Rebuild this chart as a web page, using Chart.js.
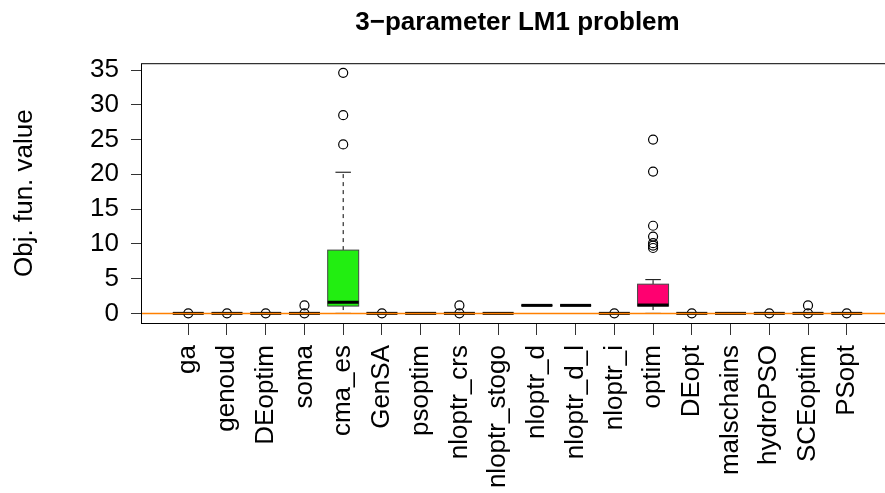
<!DOCTYPE html>
<html>
<head>
<meta charset="utf-8">
<script src="https://cdn.jsdelivr.net/npm/chart.js@4.4.1/dist/chart.umd.min.js"></script>
<style>
  html, body { margin: 0; padding: 0; background: #fff; }
  #wrap { width: 885px; height: 493px; overflow: hidden; }
</style>
</head>
<body>
<div id="wrap"><canvas id="boxChart" width="910" height="493"></canvas></div>
<script>
const solvers = ["ga", "genoud", "DEoptim", "soma", "cma_es", "GenSA", "psoptim", "nloptr_crs",
    "nloptr_stogo", "nloptr_d", "nloptr_d_l", "nloptr_i", "optim", "DEopt", "malschains",
    "hydroPSO", "SCEoptim", "PSopt"];

// box statistics
const whiskerLow  = [0, 0, 0, 0, 0,    0, 0, 0, 0, 1.15, 1.15, 0, 0,    0, 0, 0, 0, 0];
const q1          = [0, 0, 0, 0, 1.05, 0, 0, 0, 0, 1.15, 1.15, 0, 1.05, 0, 0, 0, 0, 0];
const medians     = [0, 0, 0, 0, 1.6,  0, 0, 0, 0, 1.15, 1.15, 0, 1.2,  0, 0, 0, 0, 0];
const q3          = [0, 0, 0, 0, 9.1,  0, 0, 0, 0, 1.15, 1.15, 0, 4.2,  0, 0, 0, 0, 0];
const whiskerHigh = [0, 0, 0, 0, 20.3, 0, 0, 0, 0, 1.15, 1.15, 0, 4.85, 0, 0, 0, 0, 0];
const outliers = [
    [0.01], [0.01], [0.01], [0.01, 1.15], [24.3, 28.5, 34.6], [0.01], [], [0.01, 1.15],
    [], [], [], [0.01], [9.4, 9.75, 10.1, 11.05, 12.6, 20.4, 25.0], [0.01], [],
    [0.01], [0.01, 1.15], [0.01]
];
const boxColors = ["#d3d3d3", "#d3d3d3", "#d3d3d3", "#d3d3d3", "#22ee11", "#d3d3d3", "#d3d3d3",
    "#d3d3d3", "#d3d3d3", "#d3d3d3", "#d3d3d3", "#d3d3d3", "#ff0070", "#d3d3d3", "#d3d3d3",
    "#d3d3d3", "#d3d3d3", "#d3d3d3"];
const yTicks = [0, 5, 10, 15, 20, 25, 30, 35];
const refLine = 0;

const boxWidth = 0.8;
const fontFamily = "'Liberation Sans', Arial, Helvetica, sans-serif";
const font = { family: fontFamily, size: 26 };

const outlierPoints = [];
outliers.forEach((vals, i) => vals.forEach(v => outlierPoints.push({ x: i + 1, y: v })));

const boxPlugin = {
    id: "boxes",
    beforeDatasetsDraw(chart) {
        const { ctx, scales: { x, y } } = chart;
        ctx.save();
        solvers.forEach((name, i) => {
            const cx = x.getPixelForValue(i + 1);
            const half = x.getPixelForValue(i + 1 + boxWidth / 2) - cx;
            const cap = half / 2;
            const yLo = y.getPixelForValue(whiskerLow[i]);
            const yHi = y.getPixelForValue(whiskerHigh[i]);
            const yQ1 = y.getPixelForValue(q1[i]);
            const yQ3 = y.getPixelForValue(q3[i]);
            const yMed = y.getPixelForValue(medians[i]);

            // whiskers
            ctx.strokeStyle = "#000";
            ctx.lineWidth = 1;
            ctx.setLineDash([4, 4]);
            ctx.beginPath();
            ctx.moveTo(cx, yQ3); ctx.lineTo(cx, yHi);
            ctx.moveTo(cx, yQ1); ctx.lineTo(cx, yLo);
            ctx.stroke();
            ctx.setLineDash([]);
            ctx.beginPath();
            ctx.moveTo(cx - cap, yHi); ctx.lineTo(cx + cap, yHi);
            ctx.moveTo(cx - cap, yLo); ctx.lineTo(cx + cap, yLo);
            ctx.stroke();

            // box
            ctx.fillStyle = boxColors[i];
            ctx.fillRect(cx - half, yQ3, half * 2, yQ1 - yQ3);
            ctx.strokeStyle = "#444";
            ctx.strokeRect(cx - half, yQ3, half * 2, yQ1 - yQ3);

            // median
            ctx.strokeStyle = "#000";
            ctx.lineWidth = 3;
            ctx.beginPath();
            ctx.moveTo(cx - half, yMed); ctx.lineTo(cx + half, yMed);
            ctx.stroke();
        });
        ctx.restore();
    },
    afterDatasetsDraw(chart) {
        const { ctx, chartArea, scales: { y } } = chart;
        ctx.save();
        // horizontal reference line
        const yr = y.getPixelForValue(refLine);
        ctx.strokeStyle = "#ff8000";
        ctx.lineWidth = 1.5;
        ctx.beginPath();
        ctx.moveTo(chartArea.left, yr); ctx.lineTo(chartArea.right, yr);
        ctx.stroke();
        // frame
        ctx.strokeStyle = "#000";
        ctx.lineWidth = 1;
        ctx.strokeRect(chartArea.left + 0.5, chartArea.top + 0.5,
            chartArea.right - chartArea.left, chartArea.bottom - chartArea.top);
        ctx.restore();
    }
};

new Chart(document.getElementById("boxChart"), {
    type: "scatter",
    data: {
        datasets: [{
            label: "outliers",
            data: outlierPoints,
            pointStyle: "circle",
            pointRadius: 4.5,
            pointHoverRadius: 4.5,
            borderColor: "#000",
            borderWidth: 1.2,
            backgroundColor: "rgba(0,0,0,0)"
        }]
    },
    options: {
        responsive: false,
        animation: false,
        devicePixelRatio: 1,
        layout: { padding: { right: 16 } },
        plugins: {
            legend: { display: false },
            tooltip: { enabled: false },
            title: {
                display: true,
                text: "3\u2212parameter LM1 problem",
                fullSize: false,
                color: "#000",
                font: { family: fontFamily, size: 26, weight: "bold" },
                padding: { top: 7, bottom: 25 }
            }
        },
        scales: {
            x: {
                type: "linear",
                min: -0.22,
                max: 19.22,
                afterBuildTicks: s => { s.ticks = solvers.map((_, i) => ({ value: i + 1 })); },
                afterFit: s => { s.height = 170; },
                ticks: {
                    autoSkip: false,
                    minRotation: 90,
                    maxRotation: 90,
                    padding: 10,
                    color: "#000",
                    font: font,
                    callback: v => solvers[Math.round(v) - 1]
                },
                grid: { drawOnChartArea: false, tickLength: 12, color: "#333" },
                border: { display: false }
            },
            y: {
                min: -1.384,
                max: 35.98,
                afterBuildTicks: s => { s.ticks = yTicks.map(v => ({ value: v })); },
                afterFit: s => { s.width = 141; },
                ticks: { padding: 12, color: "#000", font: font },
                grid: { drawOnChartArea: false, tickLength: 10, color: "#333" },
                border: { display: false },
                title: {
                    display: true,
                    text: "Obj. fun. value",
                    color: "#000",
                    font: font,
                    padding: { top: 9, bottom: 0 }
                }
            }
        }
    },
    plugins: [boxPlugin]
});
</script>
</body>
</html>
